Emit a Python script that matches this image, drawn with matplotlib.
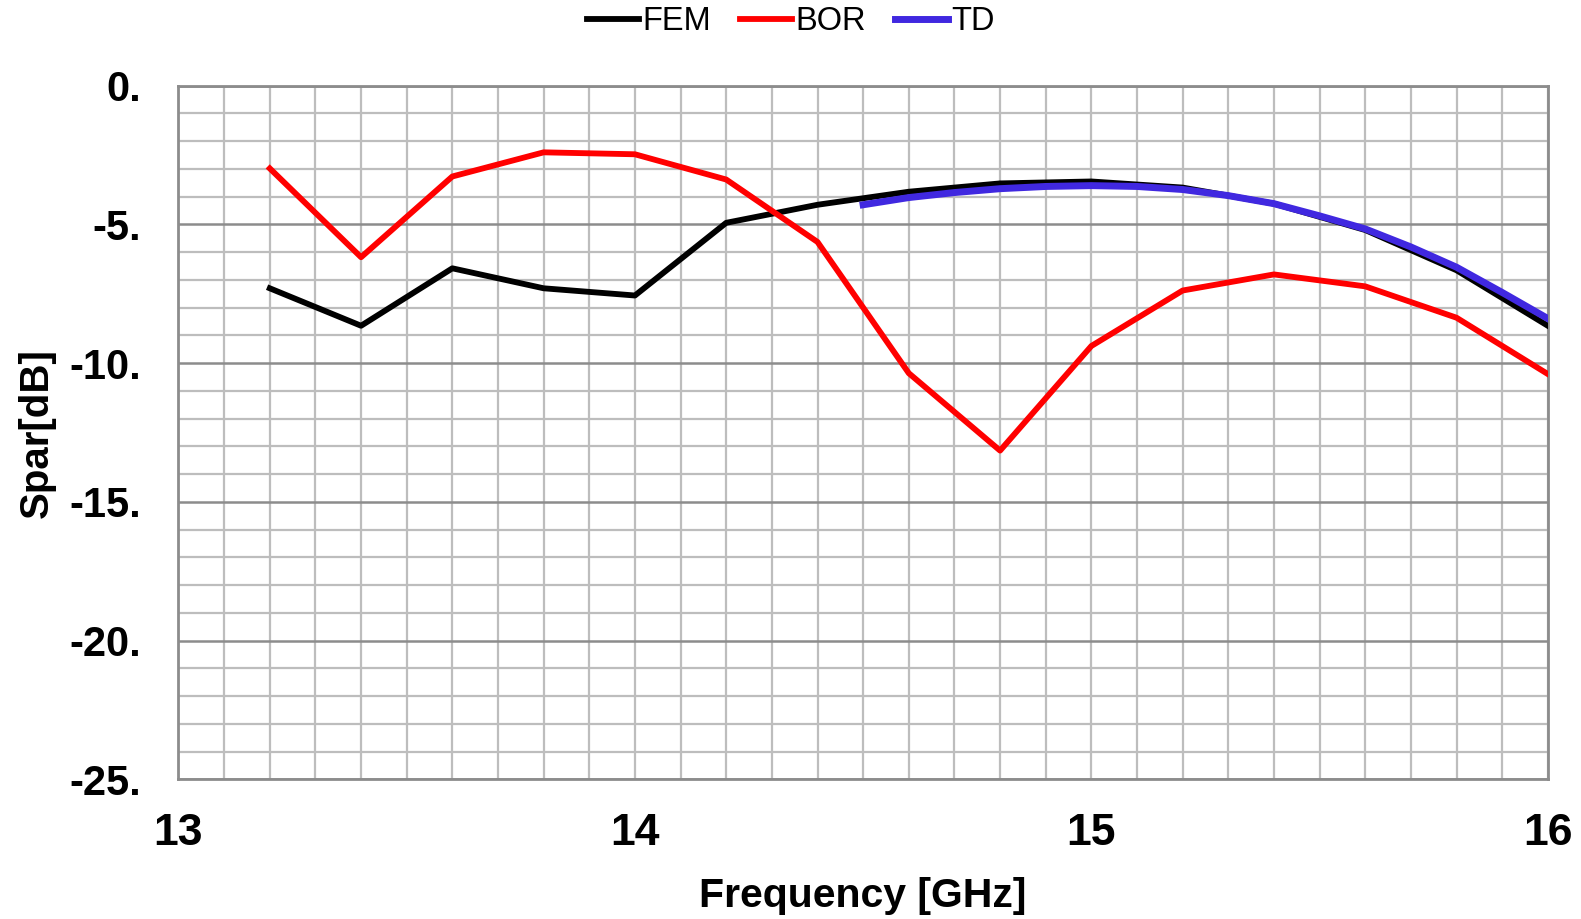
import numpy as np
import matplotlib
matplotlib.use("Agg")
import matplotlib.pyplot as plt
from matplotlib.ticker import MultipleLocator, FuncFormatter

# frequency samples [GHz]
freq = [13.2, 13.4, 13.6, 13.8, 14.0, 14.2, 14.4, 14.6, 14.8, 15.0,
        15.2, 15.4, 15.6, 15.8, 16.0]
fem = [-7.30, -8.65, -6.58, -7.30, -7.56, -4.94, -4.29, -3.82, -3.52, -3.45,
       -3.67, -4.25, -5.20, -6.65, -8.65]
bor = [-2.98, -6.18, -3.27, -2.40, -2.47, -3.38, -5.63, -10.36, -13.15, -9.38,
       -7.38, -6.80, -7.23, -8.36, -10.39]

td_freq = [14.5, 14.6, 14.7, 14.8, 14.9, 15.0, 15.1, 15.2, 15.3, 15.4,
           15.5, 15.6, 15.7, 15.8, 15.9, 16.0]
td = [-4.29, -4.03, -3.85, -3.71, -3.63, -3.60, -3.63, -3.74, -3.96, -4.25,
      -4.69, -5.16, -5.81, -6.54, -7.45, -8.39]

xticks = [13, 14, 15, 16]
yticks = [0, -5, -10, -15, -20, -25]

plt.rcParams['font.family'] = ['Liberation Sans', 'DejaVu Sans']

fig = plt.figure(figsize=(15.81, 9.19), dpi=100)
ax = fig.add_axes([0.1129, 0.1519, 0.979 - 0.1129, 0.9067 - 0.1519])

ax.plot(freq, fem, color='black', lw=4.2, label='FEM', zorder=3)
ax.plot(freq, bor, color='#ff0000', lw=4.2, label='BOR', zorder=3)
ax.plot(td_freq, td, color='#4028e0', lw=5, label='TD', zorder=4)

ax.set_xlim(13, 16)
ax.set_ylim(-25, 0)
ax.set_xticks(xticks)
ax.set_yticks(yticks)
ax.xaxis.set_minor_locator(MultipleLocator(0.1))
ax.yaxis.set_minor_locator(MultipleLocator(1))
ax.yaxis.set_major_formatter(FuncFormatter(lambda v, p: '%d.' % v))

ax.grid(which='minor', color='#bdbdbd', lw=1.6)
ax.grid(which='major', axis='x', color='#bdbdbd', lw=1.6)
ax.grid(which='major', axis='y', color='#8c8c8c', lw=1.8)
ax.set_axisbelow(True)
ax.tick_params(which='both', length=0)
ax.tick_params(axis='x', pad=24, labelsize=32)
ax.tick_params(axis='y', pad=27, labelsize=30)
for lab in ax.get_xticklabels() + ax.get_yticklabels():
    lab.set_fontweight('bold')
for s in ax.spines.values():
    s.set_color('#8c8c8c')
    s.set_linewidth(2)

ax.set_xlabel('Frequency [GHz]', fontsize=29.5, fontweight='bold', labelpad=17)
ax.set_ylabel('Spar[dB]', fontsize=29, fontweight='bold', labelpad=10)

fig.legend(loc='upper center', bbox_to_anchor=(0.5, 1.025), ncol=3, frameon=False,
           fontsize=23.5, handlelength=1.6, handletextpad=0.1, columnspacing=0.9)

fig.savefig('out.png', dpi=100)
